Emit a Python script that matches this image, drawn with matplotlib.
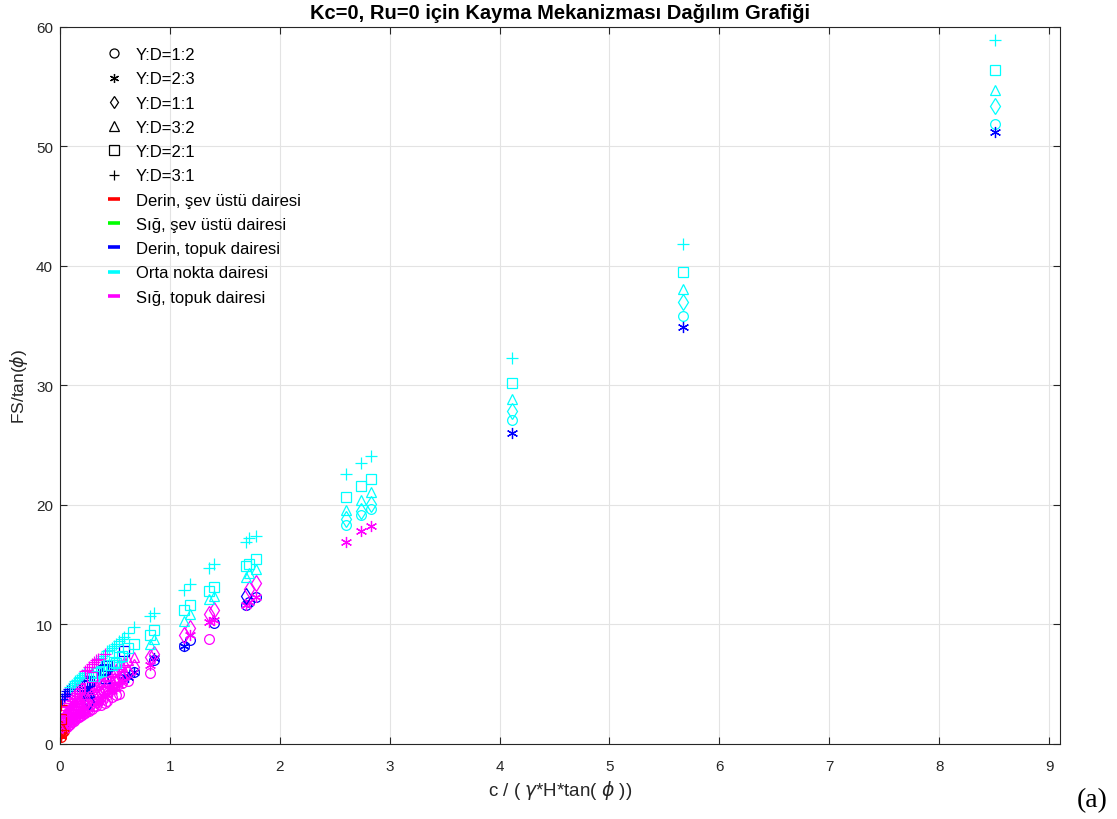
import matplotlib
matplotlib.use("Agg")
import matplotlib.pyplot as plt
from matplotlib.lines import Line2D

plt.rcParams['font.family'] = ['Liberation Sans', 'DejaVu Sans']
plt.rcParams['mathtext.fontset'] = 'dejavusans'

# shared x positions: c / (gamma*H*tan(phi))
X = [0.005, 0.02, 0.05, 0.08, 0.11, 0.14, 0.17, 0.20, 0.23, 0.26, 0.29, 0.33,
     0.37, 0.41, 0.43, 0.47, 0.51, 0.54, 0.58, 0.675, 0.82, 0.857, 1.124, 1.18,
     1.358, 1.40, 1.69, 1.72, 1.78, 2.60, 2.74, 2.83, 4.11, 5.67, 8.51]
# additional x positions in the dense region near the origin
X_extra = [0.035, 0.065, 0.095, 0.125, 0.155, 0.185, 0.215, 0.245, 0.31, 0.35,
           0.39, 0.45, 0.49, 0.56, 0.62]

# FS/tan(phi) per slope ratio, and mechanism colour code per point
# r: Derin, şev üstü  g: Sığ, şev üstü  b: Derin, topuk  c: Orta nokta  m: Sığ, topuk
Y_12 = [0.55, 0.95, 1.3, 1.6, 1.85, 2.05, 2.25, 2.45, 2.6, 2.8, 2.95, 3.15,
        3.3, 3.4, 3.6, 3.9, 4.1, 4.2, 5.65, 6.0, 5.9, 7.0, 8.2, 8.7,
        8.8, 10.1, 11.6, 11.9, 12.3, 18.3, 19.2, 19.7, 27.1, 35.8, 51.9]
C_12 = "rrmmmmmmmmmmmmmmmmbbmbbbmbbbbcccccc"
Y_12e = [1.1, 1.45, 1.7, 1.95, 2.15, 2.35, 2.55, 2.75, 3.2, 3.5, 3.8, 4.4, 4.8, 5.1, 5.3]
C_12e = "rmmmmmmmmmmmmmm"

Y_23 = [0.7, 1.15, 1.5, 1.8, 2.05, 2.3, 2.5, 2.7, 2.9, 3.1, 3.3, 3.5,
        3.75, 3.95, 4.1, 4.4, 4.7, 4.9, 5.65, 6.0, 6.6, 7.2, 8.2, 9.1,
        10.2, 10.4, 11.6, 11.9, 12.3, 16.9, 17.8, 18.2, 26.0, 34.9, 51.2]
C_23 = "rrmmmmmmmmmmmmmmmmbbmbbmmmmmmmmmbbb"
Y_23e = [1.3, 1.65, 1.95, 2.2, 2.4, 2.6, 2.8, 3.0, 3.45, 3.7, 4.0, 4.6, 5.0, 5.3, 5.6]
C_23e = "rmmmmmmmmmmmmmb"

Y_11 = [1.05, 1.6, 2.0, 2.3, 2.55, 2.8, 3.0, 3.2, 3.4, 3.6, 3.8, 4.1,
        4.3, 4.5, 4.7, 4.9, 5.2, 5.4, 5.7, 6.4, 7.25, 7.5, 9.1, 9.7,
        10.9, 11.2, 12.4, 13.0, 13.5, 18.8, 19.5, 20.1, 27.9, 37.0, 53.4]
C_11 = "rmmmmmmmmbmmmmmmmmmmmmmmmmbmmcccccc"
Y_11e = [1.8, 2.15, 2.45, 2.7, 2.9, 3.1, 3.3, 3.5, 3.95, 4.2, 4.45, 5.0, 5.3, 5.6, 6.0]
C_11e = "mmmmmmmmmmmmmmm"

Y_32 = [1.55, 2.2, 2.6, 2.95, 3.25, 3.5, 3.75, 4.0, 4.2, 4.35, 4.6, 4.9,
        5.2, 5.5, 5.7, 6.0, 6.3, 6.7, 6.9, 7.3, 8.4, 8.8, 10.3, 10.9,
        12.1, 12.4, 13.95, 14.3, 14.6, 19.6, 20.4, 21.1, 28.9, 38.1, 54.7]
C_32 = "rmmmmmmmmbmmmbmmmmmmccccccccccccccc"
Y_32e = [2.4, 2.8, 3.1, 3.35, 3.6, 3.85, 4.05, 4.25, 4.75, 5.0, 5.3, 5.8, 6.1, 6.5, 7.0]
C_32e = "mmmmmmmbmmmmmmm"

Y_21 = [2.1, 2.8, 3.3, 3.7, 4.0, 4.3, 4.6, 4.85, 5.1, 5.3, 5.6, 5.9,
        6.1, 6.3, 6.55, 6.6, 6.8, 7.25, 7.8, 8.4, 9.1, 9.5, 11.2, 11.6,
        12.8, 13.1, 14.9, 15.1, 15.5, 20.7, 21.6, 22.2, 30.2, 39.5, 56.4]
C_21 = "rmmmmmmbbbmccbbcccbcccccccccccccccc"
Y_21e = [3.05, 3.5, 3.85, 4.15, 4.45, 4.7, 4.95, 5.2, 5.7, 6.0, 6.2, 6.6, 6.9, 7.4, 8.0]
C_21e = "mmmmmmbbccbcccc"

Y_31 = [3.3, 3.8, 4.2, 4.6, 4.95, 5.25, 5.5, 5.8, 6.1, 6.4, 6.7, 7.0,
        7.2, 7.5, 7.8, 8.0, 8.4, 8.65, 8.95, 9.8, 10.7, 11.0, 12.9, 13.4,
        14.7, 15.1, 16.9, 17.2, 17.4, 22.6, 23.5, 24.1, 32.3, 41.8, 58.9]
C_31 = "rbbbccccmmmmcmccccccccccccccccccccc"
Y_31e = [4.0, 4.4, 4.8, 5.1, 5.35, 5.6, 5.9, 6.2, 6.85, 7.1, 7.35, 7.9, 8.2, 8.8, 9.3]
C_31e = "bbcccccmmmccccc"

ratio_labels = ["Y:D=1:2", "Y:D=2:3", "Y:D=1:1", "Y:D=3:2", "Y:D=2:1", "Y:D=3:1"]
mech_labels = ["Derin, şev üstü dairesi", "Sığ, şev üstü dairesi",
               "Derin, topuk dairesi", "Orta nokta dairesi", "Sığ, topuk dairesi"]

series = [(Y_12, C_12, Y_12e, C_12e), (Y_23, C_23, Y_23e, C_23e),
          (Y_11, C_11, Y_11e, C_11e), (Y_32, C_32, Y_32e, C_32e),
          (Y_21, C_21, Y_21e, C_21e), (Y_31, C_31, Y_31e, C_31e)]
markers = ['o', (6, 2, 0), 'd', '^', 's', '+']
msizes = [7, 8, 8, 7.5, 6.5, 8.5]
colmap = {'r': '#FF0000', 'g': '#00FF00', 'b': '#0000FF', 'c': '#00FFFF', 'm': '#FF00FF'}

fig = plt.figure(figsize=(11.17, 8.2), dpi=100)
ax = fig.add_axes([0.0537, 0.0915, 0.8953, 0.8745])

for (ys, cs, ye, ce), mk, ms in zip(series, markers, msizes):
    xs_all = X + X_extra
    ys_all = ys + ye
    cs_all = cs + ce
    for code in "rgbcm":
        xs = [x for x, c in zip(xs_all, cs_all) if c == code]
        yy = [y for y, c in zip(ys_all, cs_all) if c == code]
        if xs:
            ax.plot(xs, yy, linestyle='none', marker=mk, markersize=ms,
                    markerfacecolor='none', markeredgecolor=colmap[code],
                    markeredgewidth=0.9)

ax.set_xlim(0, 9.1)
ax.set_ylim(0, 60)
ax.set_xticks(range(0, 10))
ax.set_yticks(range(0, 61, 10))
ax.grid(True, color='#e3e3e3', linewidth=0.8)
ax.set_axisbelow(True)
ax.tick_params(direction='in', top=True, right=True, labelsize=11,
               colors='#262626', length=5, width=0.8)
ax.tick_params(axis='x', pad=10.5)
ax.tick_params(axis='y', pad=5)
for s in ax.spines.values():
    s.set_color('#262626')
    s.set_linewidth(0.8)

ax.set_title("Kc=0, Ru=0 için Kayma Mekanizması Dağılım Grafiği",
             fontsize=14.5, fontweight='bold', pad=6.5)
ax.set_xlabel("c / ( $\\gamma$*H*tan( $\\phi$ ))", fontsize=13.5, color='#262626', labelpad=4)
ax.set_ylabel("FS/tan($\\phi$)", fontsize=12.5, color='#262626', labelpad=4)

handles = []
for mk, lab in zip(markers, ratio_labels):
    handles.append(Line2D([], [], linestyle='none', marker=mk, markersize=6.5,
                          markerfacecolor='none', markeredgecolor='black',
                          markeredgewidth=0.9, label=lab))
for code, lab in zip("rgbcm", mech_labels):
    handles.append(Line2D([], [], linestyle='none', marker='_', markersize=8,
                          markeredgewidth=2.6, color=colmap[code], label=lab))

leg = ax.legend(handles=handles, loc='upper left', bbox_to_anchor=(0.041, 0.981),
                frameon=False, fontsize=12, handlelength=0.8, handletextpad=0.9,
                labelspacing=0.555, borderaxespad=0.0)

fig.text(0.964, 0.024, "(a)", fontsize=20, family='Liberation Serif', ha='left', va='center')

fig.savefig("out.png", dpi=100)
